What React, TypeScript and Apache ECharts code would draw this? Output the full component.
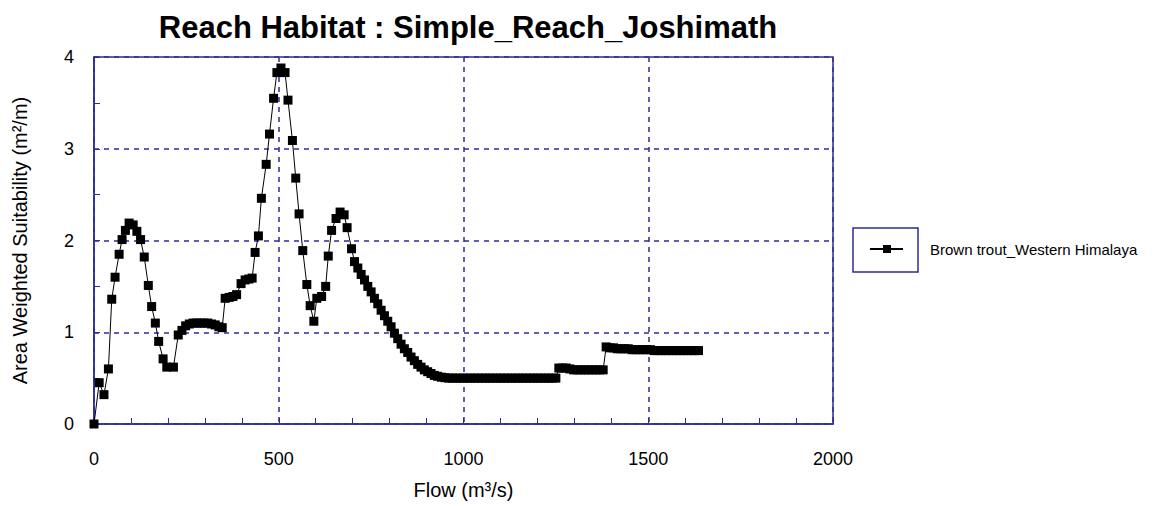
import React, { useEffect, useRef } from "react";
import * as echarts from "echarts";

// Flow (m³/s) at each simulated discharge
const flows: number[] = [
  0, 14, 27, 39, 48, 57, 68, 76, 85, 95,
  106, 116, 126, 136, 147, 156, 166, 175, 187, 197,
  215, 228, 238, 248, 258, 268, 278, 288, 298, 308,
  318, 328, 338, 347, 355, 366, 376, 386, 398, 409,
  419, 428, 436, 445, 453, 466, 475, 486, 495, 506,
  517, 525, 537, 546, 555, 565, 576, 585, 595, 603,
  616, 627, 634, 643, 655, 666, 677, 685, 697, 705,
  714, 723, 732, 741, 750, 759, 768, 777, 786, 795,
  804, 813, 822, 831, 840, 849, 858, 867, 876, 885,
  894, 903, 912, 921, 930, 940, 950, 960, 970, 980,
  990, 1000, 1010, 1020, 1030, 1040, 1050, 1060, 1070, 1080,
  1090, 1100, 1110, 1120, 1130, 1140, 1150, 1160, 1170, 1180,
  1190, 1200, 1210, 1220, 1230, 1240, 1250, 1258, 1268, 1278,
  1288, 1298, 1308, 1318, 1328, 1338, 1348, 1358, 1368, 1378,
  1386, 1396, 1406, 1416, 1426, 1436, 1446, 1456, 1466, 1476,
  1486, 1496, 1506, 1516, 1526, 1536, 1546, 1556, 1566, 1576,
  1586, 1596, 1606, 1616, 1626, 1636,
];

// Area weighted suitability (m²/m), Brown trout_Western Himalaya
const aws: number[] = [
  0, 0.45, 0.32, 0.6, 1.36, 1.6, 1.85, 2.01, 2.11, 2.19,
  2.17, 2.1, 2.01, 1.82, 1.51, 1.28, 1.1, 0.9, 0.71, 0.62,
  0.62, 0.97, 1.02, 1.07, 1.09, 1.1, 1.1, 1.1, 1.1, 1.1,
  1.09, 1.08, 1.06, 1.05, 1.37, 1.38, 1.39, 1.41, 1.53, 1.57,
  1.58, 1.59, 1.87, 2.05, 2.46, 2.83, 3.16, 3.55, 3.83, 3.88,
  3.83, 3.53, 3.09, 2.68, 2.29, 1.89, 1.52, 1.29, 1.12, 1.37,
  1.39, 1.5, 1.83, 2.11, 2.24, 2.31, 2.28, 2.14, 1.91, 1.77,
  1.7, 1.63, 1.57, 1.5, 1.44, 1.37, 1.31, 1.24, 1.18, 1.12,
  1.06, 0.99, 0.93, 0.87, 0.82, 0.78, 0.73, 0.69, 0.65, 0.62,
  0.59, 0.57, 0.55, 0.53, 0.52, 0.51, 0.505, 0.5, 0.5, 0.5,
  0.5, 0.5, 0.5, 0.5, 0.5, 0.5, 0.5, 0.5, 0.5, 0.5,
  0.5, 0.5, 0.5, 0.5, 0.5, 0.5, 0.5, 0.5, 0.5, 0.5,
  0.5, 0.5, 0.5, 0.5, 0.5, 0.5, 0.5, 0.61, 0.61, 0.61,
  0.6, 0.59, 0.59, 0.59, 0.59, 0.59, 0.59, 0.59, 0.59, 0.59,
  0.84, 0.83, 0.83, 0.82, 0.82, 0.82, 0.82, 0.81, 0.81, 0.81,
  0.81, 0.81, 0.81, 0.8, 0.8, 0.8, 0.8, 0.8, 0.8, 0.8,
  0.8, 0.8, 0.8, 0.8, 0.8, 0.8,
];

const seriesName = "Brown trout_Western Himalaya";
const chartTitle = "Reach Habitat : Simple_Reach_Joshimath";
const xName = "Flow (m³/s)";
const yName = "Area Weighted Suitability (m²/m)";

const NAVY = "#2c2c98";
const FONT = "Liberation Sans, Arial, sans-serif";

export default function App() {
  const ref = useRef<HTMLDivElement>(null);

  useEffect(() => {
    if (!ref.current) return;
    const chart = echarts.init(ref.current, undefined, { renderer: "svg" });
    const points = flows.map((f, i) => [f, aws[i]]);

    chart.setOption({
      animation: false,
      backgroundColor: "#ffffff",
      textStyle: { fontFamily: FONT },
      title: {
        text: chartTitle,
        left: 463,
        top: 7,
        textAlign: "center",
        textStyle: { fontFamily: FONT, fontSize: 31, fontWeight: "bold", color: "#000" },
      },
      grid: {
        left: 94,
        right: 320,
        top: 57,
        bottom: 82,
        show: true,
        borderColor: NAVY,
        borderWidth: 1.5,
      },
      xAxis: {
        type: "value",
        min: 0,
        max: 2000,
        interval: 500,
        name: xName,
        nameLocation: "middle",
        nameGap: 56,
        nameTextStyle: { fontFamily: FONT, fontSize: 20, color: "#000" },
        axisLine: { show: true, lineStyle: { color: NAVY, width: 1.5 } },
        axisTick: { show: true, inside: true, length: 6, lineStyle: { color: NAVY } },
        minorTick: { show: true, splitNumber: 5, length: 6, lineStyle: { color: NAVY } },
        axisLabel: {
          margin: 26,
          fontFamily: FONT,
          fontSize: 18,
          color: "#000",
          formatter: (v: number) => String(v),
        },
        splitLine: {
          show: true,
          lineStyle: { color: NAVY, width: 1.5, type: [5, 5] },
        },
      },
      yAxis: {
        type: "value",
        min: 0,
        max: 4,
        interval: 1,
        name: yName,
        nameLocation: "middle",
        nameGap: 64,
        nameTextStyle: { fontFamily: FONT, fontSize: 20, color: "#000" },
        axisLine: { show: true, lineStyle: { color: NAVY, width: 1.5 } },
        axisTick: { show: true, inside: true, length: 6, lineStyle: { color: NAVY } },
        minorTick: { show: true, splitNumber: 2, length: 6, lineStyle: { color: NAVY } },
        axisLabel: {
          margin: 20,
          fontFamily: FONT,
          fontSize: 18,
          color: "#000",
          formatter: (v: number) => String(v),
        },
        splitLine: {
          show: true,
          lineStyle: { color: NAVY, width: 1.5, type: [5, 5] },
        },
      },
      series: [
        {
          name: seriesName,
          type: "line",
          data: points,
          symbol: "rect",
          symbolSize: 9,
          showAllSymbol: true,
          lineStyle: { color: "#000", width: 1 },
          itemStyle: { color: "#000" },
          z: 3,
        },
      ],
      graphic: [
        {
          type: "rect",
          shape: { x: 853, y: 228, width: 65, height: 44 },
          style: { fill: "#fff", stroke: NAVY, lineWidth: 1.5 },
        },
        {
          type: "line",
          shape: { x1: 870, y1: 249, x2: 903, y2: 249 },
          style: { stroke: "#000", lineWidth: 2 },
        },
        {
          type: "rect",
          shape: { x: 883, y: 245, width: 8, height: 8 },
          style: { fill: "#000" },
        },
        {
          type: "text",
          x: 930,
          y: 249,
          style: {
            text: seriesName,
            fontFamily: FONT,
            fontSize: 15,
            fill: "#000",
            verticalAlign: "middle",
          },
        },
      ],
    });

    return () => chart.dispose();
  }, []);

  return (
    <div
      ref={ref}
      style={{ position: "fixed", left: 0, top: 0, width: 1153, height: 506 }}
    />
  );
}
